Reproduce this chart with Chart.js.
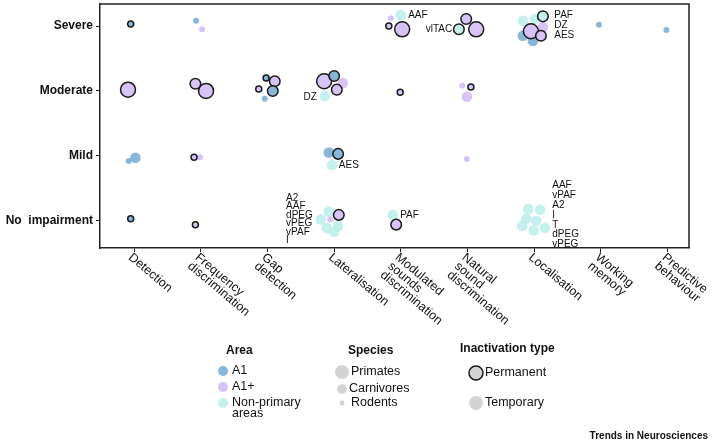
<!DOCTYPE html>
<html>
<head>
<meta charset="utf-8">
<script src="https://cdn.jsdelivr.net/npm/chart.js@4"></script>
<style>
body { margin: 0; background: #fff; }
#wrap { position: relative; width: 714px; height: 444px; }
</style>
</head>
<body>
<div id="wrap"><canvas id="impairmentChart" width="714" height="444"></canvas></div>
<script>
const tasks = [['Detection'], ['Frequency', 'discrimination'], ['Gap', 'detection'], ['Lateralisation'],
    ['Modulated', 'sounds', 'discrimination'], ['Natural', 'sound', 'discrimination'], ['Localisation'],
    ['Working', 'memory'], ['Predictive', 'behaviour']];
const levels = ['No  impairment', 'Mild', 'Moderate', 'Severe'];

// one entry per study: x = task index, y = impairment level (jittered like the figure)
const xValues = [
    -0.05, -0.09, -0.08, 0.02, -0.05,
    0.93, 1.02, 0.92, 1.08, 0.90, 0.99, 0.92,
    1.98, 2.11, 1.87, 2.08, 1.96,
    2.85, 3.00, 3.13, 3.04, 2.86, 2.92, 3.06, 2.97, 2.92, 2.80, 2.94, 3.07, 2.89, 3.06, 3.00,
    3.85, 4.00, 3.82, 4.02, 3.99, 3.88, 3.93,
    4.98, 4.87, 5.13, 4.92, 5.05, 4.99, 4.99,
    5.83, 6.01, 6.13, 6.13, 5.83, 5.98, 5.95, 6.10, 5.91, 6.09, 5.88, 6.03, 5.82, 5.99, 6.16,
    6.97, 7.98
];
const yValues = [
    3.03, 2.02, 0.92, 0.97, 0.03,
    3.08, 2.95, 2.11, 2.00, 0.98, 0.98, -0.06,
    2.20, 2.15, 2.03, 2.00, 1.88,
    2.15, 2.23, 2.12, 2.02, 1.92, 1.05, 1.03, 0.86, 0.14, 0.02, 0.02, 0.09, -0.11, -0.08, -0.17,
    3.12, 3.17, 3.00, 2.95, 1.98, 0.09, -0.06,
    3.11, 2.95, 2.95, 2.08, 2.06, 1.91, 0.95,
    3.08, 3.11, 3.15, 2.98, 2.85, 2.77, 2.92, 2.85, 0.18, 0.17, 0.03, 0.00, -0.08, -0.15, -0.11,
    3.02, 2.94
];
const areas = [
    'A1', 'A1+', 'A1', 'A1', 'A1',
    'A1', 'A1+', 'A1+', 'A1+', 'A1+', 'A1+', 'A1+',
    'A1', 'A1+', 'A1+', 'A1', 'A1',
    'A1+', 'A1', 'A1+', 'A1+', 'NP', 'A1', 'A1', 'NP', 'NP', 'NP', 'A1+', 'A1+', 'NP', 'NP', 'NP',
    'A1+', 'NP', 'A1+', 'A1+', 'A1+', 'NP', 'A1+',
    'A1+', 'NP', 'A1+', 'A1+', 'A1+', 'A1+', 'A1+',
    'NP', 'NP', 'NP', 'A1+', 'A1', 'A1', 'A1+', 'A1+', 'NP', 'NP', 'NP', 'NP', 'NP', 'NP', 'NP',
    'A1', 'A1'
];
// Pr = primates, Ca = carnivores, Ro = rodents
const species = [
    'Ro', 'Pr', 'Ro', 'Ca', 'Ro',
    'Ro', 'Ro', 'Ca', 'Pr', 'Ro', 'Ro', 'Ro',
    'Ro', 'Ca', 'Ro', 'Ca', 'Ro',
    'Pr', 'Ca', 'Ca', 'Ca', 'Ca', 'Ca', 'Ca', 'Ca', 'Ca', 'Ca', 'Ro', 'Ca', 'Ca', 'Ca', 'Ca',
    'Ro', 'Ca', 'Ro', 'Pr', 'Ro', 'Ca', 'Ca',
    'Ca', 'Ca', 'Pr', 'Ro', 'Ro', 'Ca', 'Ro',
    'Ca', 'Ca', 'Ca', 'Ca', 'Ca', 'Ca', 'Pr', 'Ca', 'Ca', 'Ca', 'Ca', 'Ca', 'Ca', 'Ca', 'Ca',
    'Ro', 'Ro'
];
// perm = permanent, temp = temporary
const inactivation = [
    'perm', 'perm', 'temp', 'temp', 'perm',
    'temp', 'temp', 'perm', 'perm', 'perm', 'temp', 'perm',
    'perm', 'perm', 'perm', 'perm', 'temp',
    'perm', 'perm', 'temp', 'perm', 'temp', 'temp', 'perm', 'temp', 'temp', 'temp', 'temp', 'perm', 'temp', 'temp', 'temp',
    'temp', 'temp', 'perm', 'perm', 'perm', 'temp', 'perm',
    'perm', 'perm', 'perm', 'temp', 'perm', 'temp', 'temp',
    'temp', 'temp', 'perm', 'temp', 'temp', 'temp', 'perm', 'perm', 'temp', 'temp', 'temp', 'temp', 'temp', 'temp', 'temp',
    'temp', 'temp'
];

// area labels written next to bubbles
const noteTexts = ['AAF', 'vlTAC', ['PAF', 'DZ', 'AES'], 'DZ', 'AES', ['A2', 'AAF', 'dPEG', 'vPEG', 'vPAF', 'I'], 'PAF',
    ['AAF', 'vPAF', 'A2', 'I', 'T', 'dPEG', 'vPEG']];
const noteX = [4.11, 4.77, 6.30, 2.74, 3.07, 2.28, 3.99, 6.27];
const noteY = [3.17, 2.95, 3.17, 1.91, 0.86, 0.35, 0.09, 0.54];

const areaLegend = [['A1', 'A1'], ['A1+', 'A1+'], ['NP', 'Non-primary', 'areas']];
const speciesLegend = [['Pr', 'Primates'], ['Ca', 'Carnivores'], ['Ro', 'Rodents']];

const areaColours = { 'A1': 'rgba(118,169,208,0.85)', 'A1+': 'rgba(212,188,245,0.9)', 'NP': 'rgba(186,239,234,0.85)' };
const speciesRadius = { 'Pr': 7.5, 'Ca': 5.3, 'Ro': 3 };
const font = '"Liberation Sans", Arial, sans-serif';

function buildPoints(kind) {
    const pts = [];
    xValues.forEach((x, i) => {
        if (inactivation[i] !== kind) return;
        pts.push({ x: x, y: yValues[i], r: speciesRadius[species[i]], area: areas[i] });
    });
    // small bubbles on top of big ones
    return pts.sort((a, b) => b.r - a.r);
}

const labelPlugin = {
    id: 'labels',
    afterDatasetsDraw(chart) {
        const ctx = chart.ctx;
        const xs = chart.scales.x;
        const ys = chart.scales.y;
        const area = chart.chartArea;
        ctx.save();

        // frame top / right
        ctx.strokeStyle = '#222';
        ctx.lineWidth = 1.5;
        ctx.beginPath();
        ctx.moveTo(area.left, area.top);
        ctx.lineTo(area.right, area.top);
        ctx.lineTo(area.right, area.bottom);
        ctx.stroke();

        // notes
        ctx.fillStyle = '#111';
        ctx.font = '10px ' + font;
        ctx.textBaseline = 'middle';
        noteTexts.forEach((t, i) => {
            const lines = Array.isArray(t) ? t : [t];
            const px = xs.getPixelForValue(noteX[i]);
            const py = ys.getPixelForValue(noteY[i]);
            const step = lines.length > 5 ? (lines.length === 6 ? 8.5 : 9.8) : 10;
            ctx.textAlign = i === 1 || i === 3 ? 'right' : 'left';
            lines.forEach((l, j) => ctx.fillText(l, px, py + j * step));
        });

        // rotated task labels
        ctx.font = '12.5px ' + font;
        ctx.textAlign = 'left';
        ctx.textBaseline = 'top';
        tasks.forEach((lines, i) => {
            ctx.save();
            ctx.translate(xs.getPixelForValue(i), area.bottom + 3);
            ctx.rotate(40 * Math.PI / 180);
            lines.forEach((l, j) => ctx.fillText(l, 0, j * 11.5));
            ctx.restore();
        });
        ctx.restore();
    },
    afterDraw(chart) {
        const ctx = chart.ctx;
        ctx.save();
        ctx.textBaseline = 'middle';
        ctx.textAlign = 'left';
        ctx.fillStyle = '#111';
        ctx.font = 'bold 12px ' + font;
        ctx.fillText('Area', 226, 351);
        ctx.fillText('Species', 348, 351);
        ctx.fillText('Inactivation type', 460, 349);

        ctx.font = '12.5px ' + font;
        areaLegend.forEach((entry, i) => {
            const cy = 371 + i * 16;
            ctx.fillStyle = areaColours[entry[0]];
            ctx.beginPath();
            ctx.arc(223, cy, 5, 0, Math.PI * 2);
            ctx.fill();
            ctx.fillStyle = '#111';
            entry.slice(1).forEach((l, j) => ctx.fillText(l, 232, cy + j * 11));
        });

        const speciesY = [372, 389, 403];
        speciesLegend.forEach((entry, i) => {
            ctx.fillStyle = '#d3d3d3';
            ctx.beginPath();
            ctx.arc(342, speciesY[i], speciesRadius[entry[0]] - 0.5, 0, Math.PI * 2);
            ctx.fill();
            ctx.fillStyle = '#111';
            ctx.fillText(entry[1], 351 - (i === 1 ? 2 : 0), speciesY[i]);
        });

        [['Permanent', 373, true], ['Temporary', 403, false]].forEach(([label, cy, border]) => {
            ctx.fillStyle = '#d3d3d3';
            ctx.beginPath();
            ctx.arc(476, cy, 7, 0, Math.PI * 2);
            ctx.fill();
            if (border) {
                ctx.strokeStyle = '#1a1a1a';
                ctx.lineWidth = 1.5;
                ctx.stroke();
            }
            ctx.fillStyle = '#111';
            ctx.fillText(label, 485, cy);
        });

        ctx.font = 'bold 10px ' + font;
        ctx.textAlign = 'right';
        ctx.fillText('Trends in Neurosciences', 708, 436);
        ctx.restore();
    }
};

new Chart(document.getElementById('impairmentChart'), {
    type: 'scatter',
    data: {
        datasets: [{
            label: 'Permanent',
            data: buildPoints('perm'),
            pointRadius: ctx => ctx.raw.r,
            pointBackgroundColor: ctx => areaColours[ctx.raw.area],
            pointBorderColor: '#1a1a1a',
            pointBorderWidth: 1.5
        }, {
            label: 'Temporary',
            data: buildPoints('temp'),
            pointRadius: ctx => ctx.raw.r,
            pointBackgroundColor: ctx => areaColours[ctx.raw.area],
            pointBorderWidth: 0
        }]
    },
    options: {
        responsive: false,
        animation: false,
        events: [],
        layout: { autoPadding: false, padding: { top: 4, right: 25, left: 0, bottom: 0 } },
        plugins: { legend: { display: false }, tooltip: { enabled: false } },
        scales: {
            x: {
                type: 'linear',
                min: -0.51,
                max: 8.32,
                afterBuildTicks: s => { s.ticks = tasks.map((t, i) => ({ value: i })); },
                afterFit: s => { s.height = 196; s.paddingLeft = 0; s.paddingRight = 0; },
                ticks: { display: false },
                grid: { drawOnChartArea: false, tickLength: 4, color: '#222' },
                border: { color: '#222', width: 1.5 }
            },
            y: {
                type: 'linear',
                min: -0.42,
                max: 3.34,
                afterBuildTicks: s => { s.ticks = levels.map((l, i) => ({ value: i })); },
                afterFit: s => { s.width = 100; s.paddingTop = 0; s.paddingBottom = 0; },
                ticks: {
                    padding: 3,
                    color: '#111',
                    font: { family: font, size: 12, weight: 'bold' },
                    callback: v => levels[v]
                },
                grid: { drawOnChartArea: false, tickLength: 4, color: '#222' },
                border: { color: '#222', width: 1.5 }
            }
        }
    },
    plugins: [labelPlugin]
});
</script>
</body>
</html>
